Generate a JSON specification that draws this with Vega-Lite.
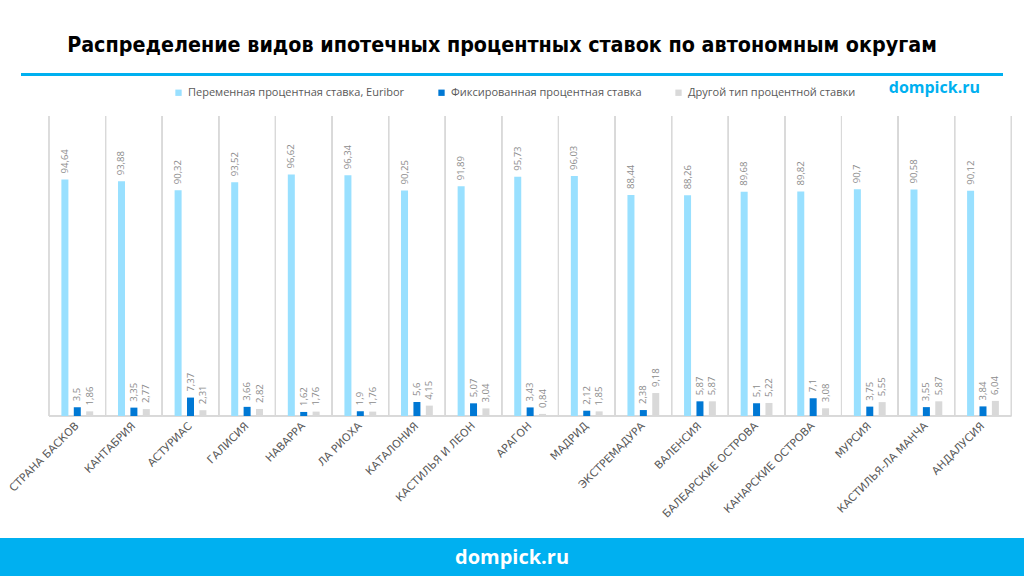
{
  "$schema": "https://vega.github.io/schema/vega-lite/v6.json",
  "background": "white",
  "padding": {"top": 35, "left": 0, "right": 0, "bottom": 0},
  "title": {
    "text": "Распределение видов ипотечных процентных ставок по автономным округам",
    "anchor": "middle",
    "dx": -10,
    "offset": 12,
    "font": "DejaVu Sans Condensed, Roboto",
    "fontSize": 21.3,
    "fontWeight": "bold",
    "color": "#000000"
  },
  "config": {
    "view": {"stroke": null},
    "locale": {"number": {"decimal": ",", "thousands": " ", "grouping": [3], "currency": ["", ""]}}
  },
  "resolve": {"legend": {"color": "independent"}},
  "spacing": 0,
  "bounds": "flush",
  "center": true,
  "vconcat": [
    {
      "width": 982,
      "height": 3,
      "view": {"fill": "#00b0f0", "stroke": null},
      "title": {
        "text": "dompick.ru",
        "orient": "bottom",
        "anchor": "end",
        "dx": -23,
        "offset": 0,
        "color": "#00b0f0",
        "font": "Open Sans",
        "fontSize": 16,
        "fontWeight": "bold"
      },
      "data": {"values": [{"t": ""}]},
      "mark": {"type": "text"},
      "encoding": {"text": {"field": "t", "type": "nominal"}}
    },
    {
      "width": 1024,
      "height": 40,
      "data": {"values": [{"t": ""}]},
      "mark": {"type": "text"},
      "encoding": {"text": {"field": "t", "type": "nominal"}}
    },
    {
      "width": 1024,
      "height": 300,
      "data": {
        "values": [
          {"region": "СТРАНА БАСКОВ", "type": "Переменная процентная ставка, Euribor", "value": 94.64},
          {"region": "СТРАНА БАСКОВ", "type": "Фиксированная процентная ставка", "value": 3.5},
          {"region": "СТРАНА БАСКОВ", "type": "Другой тип процентной ставки", "value": 1.86},
          {"region": "КАНТАБРИЯ", "type": "Переменная процентная ставка, Euribor", "value": 93.88},
          {"region": "КАНТАБРИЯ", "type": "Фиксированная процентная ставка", "value": 3.35},
          {"region": "КАНТАБРИЯ", "type": "Другой тип процентной ставки", "value": 2.77},
          {"region": "АСТУРИАС", "type": "Переменная процентная ставка, Euribor", "value": 90.32},
          {"region": "АСТУРИАС", "type": "Фиксированная процентная ставка", "value": 7.37},
          {"region": "АСТУРИАС", "type": "Другой тип процентной ставки", "value": 2.31},
          {"region": "ГАЛИСИЯ", "type": "Переменная процентная ставка, Euribor", "value": 93.52},
          {"region": "ГАЛИСИЯ", "type": "Фиксированная процентная ставка", "value": 3.66},
          {"region": "ГАЛИСИЯ", "type": "Другой тип процентной ставки", "value": 2.82},
          {"region": "НАВАРРА", "type": "Переменная процентная ставка, Euribor", "value": 96.62},
          {"region": "НАВАРРА", "type": "Фиксированная процентная ставка", "value": 1.62},
          {"region": "НАВАРРА", "type": "Другой тип процентной ставки", "value": 1.76},
          {"region": "ЛА РИОХА", "type": "Переменная процентная ставка, Euribor", "value": 96.34},
          {"region": "ЛА РИОХА", "type": "Фиксированная процентная ставка", "value": 1.9},
          {"region": "ЛА РИОХА", "type": "Другой тип процентной ставки", "value": 1.76},
          {"region": "КАТАЛОНИЯ", "type": "Переменная процентная ставка, Euribor", "value": 90.25},
          {"region": "КАТАЛОНИЯ", "type": "Фиксированная процентная ставка", "value": 5.6},
          {"region": "КАТАЛОНИЯ", "type": "Другой тип процентной ставки", "value": 4.15},
          {"region": "КАСТИЛЬЯ И ЛЕОН", "type": "Переменная процентная ставка, Euribor", "value": 91.89},
          {"region": "КАСТИЛЬЯ И ЛЕОН", "type": "Фиксированная процентная ставка", "value": 5.07},
          {"region": "КАСТИЛЬЯ И ЛЕОН", "type": "Другой тип процентной ставки", "value": 3.04},
          {"region": "АРАГОН", "type": "Переменная процентная ставка, Euribor", "value": 95.73},
          {"region": "АРАГОН", "type": "Фиксированная процентная ставка", "value": 3.43},
          {"region": "АРАГОН", "type": "Другой тип процентной ставки", "value": 0.84},
          {"region": "МАДРИД", "type": "Переменная процентная ставка, Euribor", "value": 96.03},
          {"region": "МАДРИД", "type": "Фиксированная процентная ставка", "value": 2.12},
          {"region": "МАДРИД", "type": "Другой тип процентной ставки", "value": 1.85},
          {"region": "ЭКСТРЕМАДУРА", "type": "Переменная процентная ставка, Euribor", "value": 88.44},
          {"region": "ЭКСТРЕМАДУРА", "type": "Фиксированная процентная ставка", "value": 2.38},
          {"region": "ЭКСТРЕМАДУРА", "type": "Другой тип процентной ставки", "value": 9.18},
          {"region": "ВАЛЕНСИЯ", "type": "Переменная процентная ставка, Euribor", "value": 88.26},
          {"region": "ВАЛЕНСИЯ", "type": "Фиксированная процентная ставка", "value": 5.87},
          {"region": "ВАЛЕНСИЯ", "type": "Другой тип процентной ставки", "value": 5.87},
          {"region": "БАЛЕАРСКИЕ ОСТРОВА", "type": "Переменная процентная ставка, Euribor", "value": 89.68},
          {"region": "БАЛЕАРСКИЕ ОСТРОВА", "type": "Фиксированная процентная ставка", "value": 5.1},
          {"region": "БАЛЕАРСКИЕ ОСТРОВА", "type": "Другой тип процентной ставки", "value": 5.22},
          {"region": "КАНАРСКИЕ ОСТРОВА", "type": "Переменная процентная ставка, Euribor", "value": 89.82},
          {"region": "КАНАРСКИЕ ОСТРОВА", "type": "Фиксированная процентная ставка", "value": 7.1},
          {"region": "КАНАРСКИЕ ОСТРОВА", "type": "Другой тип процентной ставки", "value": 3.08},
          {"region": "МУРСИЯ", "type": "Переменная процентная ставка, Euribor", "value": 90.7},
          {"region": "МУРСИЯ", "type": "Фиксированная процентная ставка", "value": 3.75},
          {"region": "МУРСИЯ", "type": "Другой тип процентной ставки", "value": 5.55},
          {"region": "КАСТИЛЬЯ-ЛА МАНЧА", "type": "Переменная процентная ставка, Euribor", "value": 90.58},
          {"region": "КАСТИЛЬЯ-ЛА МАНЧА", "type": "Фиксированная процентная ставка", "value": 3.55},
          {"region": "КАСТИЛЬЯ-ЛА МАНЧА", "type": "Другой тип процентной ставки", "value": 5.87},
          {"region": "АНДАЛУСИЯ", "type": "Переменная процентная ставка, Euribor", "value": 90.12},
          {"region": "АНДАЛУСИЯ", "type": "Фиксированная процентная ставка", "value": 3.84},
          {"region": "АНДАЛУСИЯ", "type": "Другой тип процентной ставки", "value": 6.04}
        ]
      },
      "encoding": {
        "x": {
          "field": "region",
          "type": "nominal",
          "sort": null,
          "scale": {"paddingInner": 0, "paddingOuter": 0.545, "align": 0.794},
          "axis": {
            "title": null,
            "labelAngle": -45,
            "labelAlign": "right",
            "labelBaseline": "middle",
            "labelPadding": 8,
            "labelFont": "DejaVu Sans",
            "labelFontSize": 10.8,
            "labelColor": "#595959",
            "ticks": false,
            "grid": false,
            "domain": false
          }
        }
      },
      "layer": [
        {
          "mark": {"type": "rule", "color": "#d9d9d9", "strokeWidth": 1},
          "encoding": {
            "x": {"field": "region", "type": "nominal", "sort": null, "bandPosition": 0},
            "y": {"datum": 120, "type": "quantitative", "scale": {"domain": [0, 120]}, "axis": null},
            "y2": {"datum": 0}
          }
        },
        {
          "mark": {"type": "rule", "color": "#d9d9d9", "strokeWidth": 1},
          "encoding": {
            "x": {"field": "region", "type": "nominal", "sort": null, "bandPosition": 1},
            "y": {"datum": 120, "type": "quantitative"},
            "y2": {"datum": 0}
          }
        },
        {
          "mark": {"type": "bar", "fill": null, "stroke": "#d9d9d9", "strokeWidth": 1, "width": {"band": 1}},
          "encoding": {
            "y": {"datum": 0, "type": "quantitative"},
            "y2": {"datum": 0}
          }
        },
        {
          "mark": {"type": "bar"},
          "encoding": {
            "xOffset": {
              "field": "type",
              "type": "nominal",
              "sort": ["Переменная процентная ставка, Euribor", "Фиксированная процентная ставка", "Другой тип процентной ставки"],
              "scale": {"paddingInner": 0.435, "paddingOuter": 1.18}
            },
            "y": {"field": "value", "type": "quantitative"},
            "color": {
              "field": "type",
              "type": "nominal",
              "scale": {
                "domain": ["Переменная процентная ставка, Euribor", "Фиксированная процентная ставка", "Другой тип процентной ставки"],
                "range": ["#99e0ff", "#0078d4", "#d9d9d9"]
              },
              "legend": {
                "title": null,
                "orient": "none",
                "legendX": 173,
                "legendY": -29,
                "direction": "horizontal",
                "symbolType": "square",
                "symbolSize": 40,
                "symbolStrokeWidth": 0,
                "labelFont": "Open Sans",
                "labelFontSize": 11,
                "labelLimit": 400,
                "labelColor": "#595959",
                "columnPadding": 31
              }
            }
          }
        },
        {
          "mark": {
            "type": "text",
            "angle": 270,
            "align": "left",
            "baseline": "middle",
            "dx": 6,
            "font": "Open Sans",
            "fontSize": 9.5,
            "color": "#8c8c8c"
          },
          "encoding": {
            "xOffset": {
              "field": "type",
              "type": "nominal",
              "sort": ["Переменная процентная ставка, Euribor", "Фиксированная процентная ставка", "Другой тип процентной ставки"]
            },
            "y": {"field": "value", "type": "quantitative"},
            "text": {"field": "value", "type": "quantitative", "format": "~g"}
          }
        }
      ]
    },
    {
      "width": 1024,
      "height": 122,
      "data": {"values": [{"t": ""}]},
      "mark": {"type": "text"},
      "encoding": {"text": {"field": "t", "type": "nominal"}}
    },
    {
      "width": 1024,
      "height": 39,
      "view": {"fill": "#00b0f0", "stroke": null},
      "data": {"values": [{"site": "dompick.ru"}]},
      "mark": {
        "type": "text",
        "color": "#ffffff",
        "font": "Open Sans",
        "fontSize": 20,
        "fontWeight": "bold"
      },
      "encoding": {"text": {"field": "site", "type": "nominal"}}
    }
  ]
}
